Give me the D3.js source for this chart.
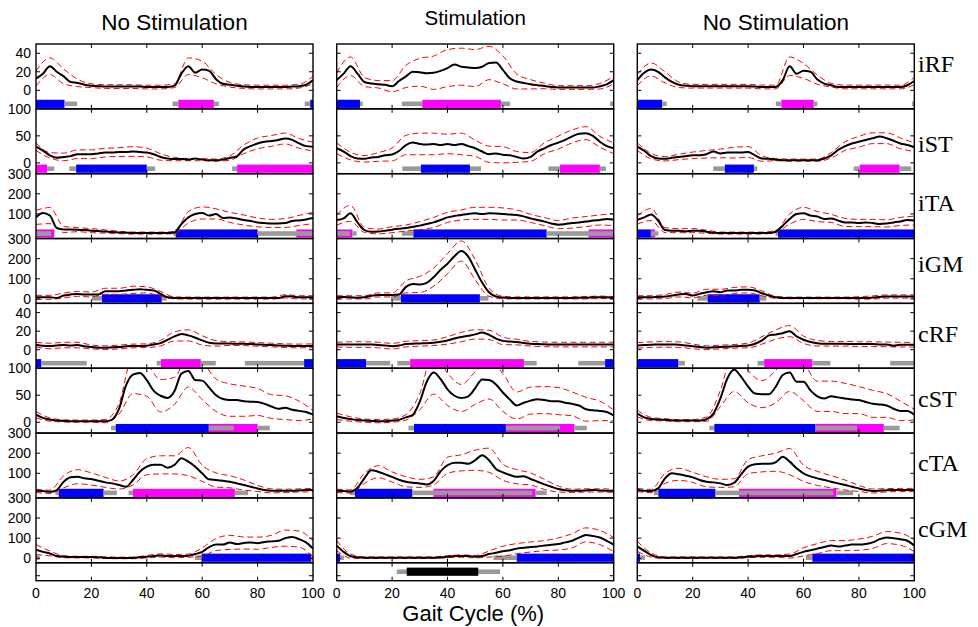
<!DOCTYPE html>
<html>
<head>
<meta charset="utf-8">
<script src="https://cdn.jsdelivr.net/npm/d3@7/dist/d3.min.js"></script>
<style>
html,body{margin:0;padding:0;background:#fff;}
text{font-family:"Liberation Sans",Arial,sans-serif;fill:#000;}
</style>
</head>
<body>
<svg id="chart" width="978" height="627"></svg>
<script>
// ================= DATA =================
const columnTitles = ["No Stimulation", "Stimulation", "No Stimulation"];
const muscles = ["iRF", "iST", "iTA", "iGM", "cRF", "cST", "cTA", "cGM"];
const xTicks = [0, 20, 40, 60, 80, 100];
const xLabel = "Gait Cycle (%)";
const yDomains = { RF: [-20, 50], ST: [-20, 100], TA: [-22, 300], GM: [-22, 300] };
const yTickValues = { RF: [0, 20, 40], ST: [0, 50, 100], TA: [100, 200, 300], GM: [0, 100, 200, 300] };
// sample positions (% gait cycle)
const gaitPct = [0,2.5,5,7.5,10,12.5,15,17.5,20,22.5,25,27.5,30,32.5,35,37.5,40,42.5,45,47.5,50,52.5,55,57.5,60,62.5,65,67.5,70,72.5,75,77.5,80,82.5,85,87.5,90,92.5,95,97.5,100];
const gaitPctSd = [0,5,10,15,20,25,30,35,40,45,50,55,60,65,70,75,80,85,90,95,100];

// Column 1: No Stimulation (mean EMG, order = muscles)
const col1Mean = [
  [12.7,18,26,20,15,9,8,6,5,4.5,4,4,4,4,4,4,3.5,3.5,3.5,3.5,5,18,26,19,22.5,21,12,7,6,5,4,3.5,3.5,3.5,3.5,3.5,3.5,4,4.5,6,11],
  [30,22.5,14,9.4,11,12.5,16,16,16,17.5,19,19,20,20,21,20,19,16,11,8,7,7,6,8,6,5,5,6,9,12,25,31,36,39,40.6,42.5,45,42.5,36,31,30],
  [83,105,92,30,23,23,22,20,17,15,13,10,8,7,5,5,5,5,5,5,8,50,83,100,105,92,100,80,83,77,70,65,58,55,53,53,55,65,68,73,80],
  [8,8,8,5,17,22,25,22,22,22,38,38,38,42,45,48,45,42,25,8,5,4,4,4,4,4,4,4,4,4,4,4,4,4,4,4,13,12,8,8,8],
  [5.4,4.3,4,4.6,5,4.6,5,3.6,2.9,2.1,2.1,2.5,2.9,3.6,4,4,4.3,5.7,7.1,10.7,14.3,17,15.4,12.9,10,7.5,6.8,6.8,6.6,6.4,6.4,6,5.7,5.4,5,4.6,4.3,4,4,4,4.3],
  [14,8,5,3,2.5,2,2,2,2,2,2,5,25,68,88,91,78,58,49,45,58,90,95,78,77,64,50,43,41,41,39,38,37.5,34,29,25,27,23,21,19,14],
  [13,12,8,17,58,80,83,75,72,63,55,50,42,33,67,108,133,142,142,128,142,175,158,133,100,70,67,63,58,50,42,33,25,17,13,13,13,13,15,17,17],
  [43,32,24,11,8,6,6,6,6,5,3,2,2,2,2,5,8,11,14,11,11,11,13,21,32,56,68,68,79,71,76,79,75,81,84,87,100,106,95,79,48]
];
const col1Sd = [
  [8,9,8,4,2,2,2,2,2,2,2,9,9,5,2.5,2,2,2,2,2,4],
  [7,5,7,8,8,8,8,9,8,6,3,2,2,2,4,8,10,10,10,9,8],
  [35,40,15,10,10,8,6,5,5,5,5,28,30,25,25,25,22,20,22,25,28],
  [10,10,12,12,12,15,15,18,15,12,5,5,5,5,5,5,5,5,8,8,8],
  [2.5,3,3,3,2,2,2,2,2,3,5,6,5,3,2,2,2,2,2,2,2],
  [6,3,2,2,2,3,10,35,30,30,25,30,35,30,30,28,25,22,22,18,8],
  [8,8,30,35,30,25,20,25,40,45,45,70,40,35,30,25,15,10,8,8,8],
  [25,12,5,4,4,4,4,4,6,8,8,8,20,30,35,30,30,30,40,40,40]
];
// on/off bars: [start %, end %, kind]  b = blue, m = magenta, g = grey, k = black
const col1Bars = [
  [[0,10.3,"b"],[10.3,14.8,"g"],[49.3,51.4,"g"],[51.4,64.2,"m"],[64.2,66,"g"],[97,99,"g"],[99,100,"b"]],
  [[0,4,"m"],[4,6.6,"g"],[12,14.5,"g"],[14.5,40,"b"],[40,43,"g"],[70.8,72.6,"g"],[72.6,100,"m"]],
  [[0,6.6,"m"],[0,5.5,"g"],[49.5,50.4,"g"],[50.4,80,"b"],[94,100,"m"],[80,100,"g"]],
  [[20.2,23.8,"g"],[23.8,45.4,"b"],[45.4,47.2,"g"]],
  [[0,1.9,"b"],[1.9,18.3,"g"],[43.6,45.1,"g"],[45.1,59.5,"m"],[59.5,64.9,"g"],[75.4,96.8,"g"],[96.8,100,"b"]],
  [[27.1,28.8,"g"],[28.8,62.4,"b"],[62.4,80,"m"],[62.4,71.4,"g"],[80,84.4,"g"]],
  [[7,8.2,"g"],[8.2,24.4,"b"],[24.4,29.2,"g"],[33.4,35,"g"],[35,71.8,"m"],[71.8,76.6,"g"]],
  [[0,1.3,"g"],[57.4,59.8,"g"],[59.8,99.4,"b"],[99.4,100,"g"]]
];

// Column 2: Stimulation
const col2Mean = [
  [11,18,26,18,9,7.3,6.5,6,4.5,10,15,20,19.5,18.5,19,21,24,28,25.5,24.7,24,25.5,29.5,30,22,13,9.5,8,6.5,5.5,4.7,3.6,3,3,3,3,3,3,4.4,6.5,11],
  [27,21,12.5,8,7.5,10,11,14,15.6,22,33,37.5,35,34,35,33,35,33,35,31,27,21,16,17.5,15,14,11,8,11,21,27,33,37.5,42.5,49,54,55,50,39,31,27],
  [70,78,103,58,20,12,13,17,22,26,30,36,42,50,58,70,83,90,95,100,103,100,103,102,100,97,95,88,78,70,62,53,47,50,55,58,62,67,70,75,72],
  [8,10,8,6,8,16,20,20,20,22,60,74,72,80,108,145,175,212,238,210,145,82,33,12,7,5,5,5,5,5,5,5,5,5,5,6,6,8,8,8,6],
  [5.5,5.7,5.5,5.5,5.5,5.5,5,4.6,3.8,4.5,6,6.4,6.8,7,7.5,8.5,10,12,13.6,15,16.5,18.5,16,12,9.5,8.7,8.2,7.2,6.4,6,5.8,5.6,5.5,5.5,5.5,5.5,5.5,5.5,5.5,5.5,5.5],
  [11,8,6,4,3,2.5,2,2,3,4.4,9,14,38,75,92,80,61,49,45,48,63,79,78,70,55,42,31,36,40,42.5,41,39,39,36,34,31,24,22,21,19,12.5],
  [13,12,10,28,75,115,108,95,82,68,58,53,50,45,62,110,140,153,152,147,165,190,165,122,105,92,83,86,72,58,45,33,22,16,13,13,15,17,15,13,13],
  [63,32,11,5,3,3,3,3,3,3,3,3,3,3,3,5,8,11,11,11,8,11,21,27,35,40,48,52,56,59,63,67,71,79,87,103,116,111,103,87,68]
];
const col2Sd = [
  [8,10,5,4,6,12,15,18,20,20,20,18,15,8,5,3,2,2,2,3,4],
  [10,7,6,8,12,18,20,20,18,20,15,15,15,10,8,10,12,12,12,10,10],
  [25,40,12,12,15,15,20,25,25,25,30,30,30,25,20,20,20,25,25,25,30],
  [8,8,8,10,10,30,40,45,50,50,50,20,6,5,5,5,5,5,6,6,6],
  [2.5,3,3,3,3,3,3,3,4,5,5,5,4,3,2.5,2.5,2.5,2.5,2.5,2.5,2.5],
  [6,4,3,3,3,5,15,40,30,25,30,35,35,25,25,25,25,22,22,18,10],
  [8,8,25,30,25,25,20,20,40,40,50,60,40,35,30,25,15,8,8,8,8],
  [25,10,4,4,4,4,4,4,5,6,6,15,25,25,25,25,30,35,35,35,35]
];
const col2Bars = [
  [[0,8.4,"b"],[8.4,9.4,"g"],[23.5,30.9,"g"],[30.9,59.3,"m"],[59.3,62.6,"g"],[98.7,100,"g"]],
  [[23.7,30.4,"g"],[30.4,48.1,"b"],[48.1,52.1,"g"],[76.4,80.6,"g"],[80.6,95,"m"],[95,97.2,"g"]],
  [[0,5.7,"m"],[0,4.8,"g"],[5.7,7.2,"g"],[23.5,27.7,"g"],[27.7,75.8,"b"],[90.9,100,"m"],[75.8,100,"g"]],
  [[19.6,23.2,"g"],[23.2,51.7,"b"],[51.7,54.8,"g"]],
  [[0,10.6,"b"],[10.6,19.3,"g"],[21.9,26.5,"g"],[26.5,67.6,"m"],[67.6,72.2,"g"],[87.2,96.9,"g"],[96.9,100,"b"]],
  [[25.9,27.9,"g"],[27.9,61.1,"b"],[61.1,85.8,"m"],[61.1,80.6,"g"],[85.8,90.3,"g"]],
  [[4.8,6.6,"g"],[6.6,27.3,"b"],[27.3,34.9,"g"],[34.9,71.8,"m"],[34.9,70.6,"g"],[71.8,75.8,"g"]],
  [[0,1.2,"b"],[1.2,2.6,"g"],[56.6,65,"g"],[65,100,"b"]]
];
// stimulation period (column 2 only)
const stimBars = [[21.7,59,"g"],[25.3,51.1,"k"]];

// Column 3: No Stimulation
const col3Mean = [
  [11,19,22.5,20,14,9,6,5,4.4,4.4,4.4,4.4,4.4,4.4,4.4,4.4,4.4,4,3.6,3.6,3.6,11,26,18,21,20,11.6,7.3,5.5,3.6,3.6,3.6,3.6,3.6,3.6,3.6,3.6,3.6,3.6,5.5,10],
  [30,22.5,12.5,8,7.5,9.4,11,12.5,14,14,16,21,17.5,19,19,19,20,14,8,7.5,6,5,5,5,5,5,5,8,14,24,31,36,39,42.5,45.6,49,45.6,41,36,33,29],
  [70,83,97,67,20,17,17,13,17,17,12,7,5,5,5,5,5,5,5,5,13,42,75,100,103,92,87,75,78,67,58,58,55,58,55,50,53,58,63,70,67],
  [8,8,8,10,12,17,22,25,17,25,33,38,33,42,42,45,45,42,28,17,8,5,5,5,5,5,5,5,5,5,5,5,5,5,7,10,12,12,12,12,12],
  [4.6,5,5.4,5.5,5.7,5.5,5.4,4.5,3.6,2.8,2.1,2.5,2.9,3.2,3.6,4,4.6,6.4,10,15.4,16.4,17.8,20,14.3,10.7,8.2,7,6.4,6.4,6.4,6.4,6,6,6,6,5.7,5.7,4.3,5.4,5.4,5.4],
  [16,9,6,5,4.4,3.5,3,3,3,3,5.6,16,44,81,97,84,66,53,52,52,66,87.5,92,75,75,59,48,44,48,46,44,42,41,37.5,34,33,31,25,21,21,14],
  [17,13,12,25,75,100,95,88,80,67,58,55,50,42,53,95,133,145,147,147,155,182,158,125,100,85,75,67,58,50,42,33,25,17,12,14,16,17,17,17,17],
  [59,37,16,5,3,3,3,3,3,3,3,3,3,3,3,5,8,10,11,11,11,11,11,21,32,40,48,56,63,59,63,68,68,71,79,95,103,100,95,87,63]
];
const col3Sd = [
  [6,7,6,3,2,2,2,2,2,2,2,10,8,5,2,2,2,2,2,2,4],
  [7,5,4,5,6,7,8,10,10,5,2,2,2,2,5,8,10,10,10,10,8],
  [20,30,12,10,10,8,5,5,5,5,5,25,30,25,20,20,18,18,18,20,22],
  [8,8,10,12,12,15,15,15,15,12,5,4,4,4,4,4,6,8,8,8,8],
  [3,3,3,3,2.5,2,2,2,2.5,4,5,6,4,3,2.5,2.5,2.5,2.5,2.5,2.5,2.5],
  [6,3,2,2,2,4,15,40,30,25,30,35,35,28,28,28,25,25,22,18,10],
  [8,8,25,30,25,25,20,20,35,40,45,65,40,35,30,25,15,10,8,8,8],
  [25,10,4,4,4,4,4,4,5,6,6,10,20,25,25,25,28,30,30,30,30]
];
const col3Bars = [
  [[0,9,"b"],[9,10.6,"g"],[50,52,"g"],[52,63.7,"m"],[63.7,65,"g"],[99.2,100,"g"]],
  [[27.4,31.6,"g"],[31.6,42.1,"b"],[42.1,43.3,"g"],[78.1,80.3,"g"],[80.3,94.7,"m"],[94.7,98.9,"g"]],
  [[0,4.9,"b"],[4.9,6.4,"m"],[4.9,7.6,"g"],[49.9,50.8,"g"],[50.8,100,"b"]],
  [[21.8,25.4,"g"],[25.4,44.2,"b"],[44.2,46.6,"g"]],
  [[0,14.8,"b"],[14.8,17.2,"g"],[43.4,45.8,"g"],[45.8,63.2,"m"],[63.2,69.7,"g"],[91.3,100,"g"]],
  [[26,27.8,"g"],[27.8,64.3,"b"],[64.3,89,"m"],[64.3,79.3,"g"],[89,94.7,"g"]],
  [[6,7.6,"g"],[7.6,28.2,"b"],[28.2,36.7,"g"],[36.7,71.9,"m"],[36.7,70.7,"g"],[71.9,77.9,"g"]],
  [[0,1,"b"],[1,2.8,"g"],[60.8,63.2,"g"],[63.2,100,"b"]]
];

// ================= LAYOUT / STYLE =================
const W = 978, H = 627;
const panelLeft = [36, 336.7, 637.3], panelWidth = 277;
const plotTop = 44, rowH = 64.84, stimH = 18;
const titleBaseline = [30, 25, 30];
const titleSize = [22.5, 20.5, 22.5];
const rowLabelCenter = [20, 35, 29.5, 25.5, 30.6, 30.8, 29.5, 31];
const barColor = { b: "#0000ff", m: "#ff00ff", g: "#9a9a9a", k: "#000000" };
const stimColumn = 1;

const svg = d3.select("#chart");
svg.append("rect").attr("width", W).attr("height", H).attr("fill", "#fff");
const defs = svg.append("defs");

const means = [col1Mean, col2Mean, col3Mean];
const sds = [col1Sd, col2Sd, col3Sd];
const barsets = [col1Bars, col2Bars, col3Bars];

function drawBars(g, x, list, yMid) {
  list.forEach(([s, e, k]) => {
    const thick = k === "g" ? 4.6 : 8.2;
    g.append("rect")
      .attr("x", x(s)).attr("width", Math.max(0, x(e) - x(s)))
      .attr("y", yMid - thick / 2).attr("height", thick)
      .attr("fill", barColor[k]);
  });
}

panelLeft.forEach((left, c) => {
  const x = d3.scaleLinear().domain([0, 100]).range([left, left + panelWidth]);

  svg.append("text")
    .attr("x", left + panelWidth / 2).attr("y", titleBaseline[c])
    .attr("text-anchor", "middle").attr("font-size", titleSize[c])
    .text(columnTitles[c]);

  muscles.forEach((m, r) => {
    const t = m.slice(1);
    const y0 = plotTop + r * rowH, y1 = y0 + rowH;
    const y = d3.scaleLinear().domain(yDomains[t]).range([y1, y0]);
    const id = `clip${c}_${r}`;
    defs.append("clipPath").attr("id", id).append("rect")
      .attr("x", left).attr("y", y0).attr("width", panelWidth).attr("height", rowH);
    const g = svg.append("g").attr("clip-path", `url(#${id})`);

    const mean = means[c][r], sd = sds[c][r];
    const meanPts = gaitPct.map((p, i) => [p, mean[i]]);
    const upPts = gaitPctSd.map((p, i) => [p, mean[i * 2] + sd[i]]);
    const loPts = gaitPctSd.map((p, i) => [p, mean[i * 2] - sd[i]]);
    const line = d3.line().x(d => x(d[0])).y(d => y(d[1])).curve(d3.curveMonotoneX);

    drawBars(g, x, barsets[c][r], y1 - 5);

    [upPts, loPts].forEach(pts => {
      g.append("path").attr("d", line(pts)).attr("fill", "none")
        .attr("stroke", "#ff0000").attr("stroke-width", 1)
        .attr("stroke-dasharray", "6,3.5");
    });
    g.append("path").attr("d", line(meanPts)).attr("fill", "none")
      .attr("stroke", "#000").attr("stroke-width", 2).attr("stroke-linejoin", "round");

    // ticks
    const tk = svg.append("g").attr("stroke", "#000").attr("stroke-width", 1);
    xTicks.filter(v => v > 0 && v < 100).forEach(v => {
      tk.append("line").attr("x1", x(v)).attr("x2", x(v)).attr("y1", y0).attr("y2", y0 + 4);
      tk.append("line").attr("x1", x(v)).attr("x2", x(v)).attr("y1", y1 - 4).attr("y2", y1);
    });
    yTickValues[t].filter(v => v < yDomains[t][1]).forEach(v => {
      tk.append("line").attr("x1", left).attr("x2", left + 4).attr("y1", y(v)).attr("y2", y(v));
      tk.append("line").attr("x1", left + panelWidth - 4).attr("x2", left + panelWidth).attr("y1", y(v)).attr("y2", y(v));
    });

    svg.append("rect").attr("x", left).attr("y", y0).attr("width", panelWidth).attr("height", rowH)
      .attr("fill", "none").attr("stroke", "#000").attr("stroke-width", 1.4);

    if (c === 0) {
      yTickValues[t].forEach(v => {
        svg.append("text").attr("x", 31).attr("y", y(v) + 5)
          .attr("text-anchor", "end").attr("font-size", 14).text(v);
      });
    }
    if (c === 2) {
      svg.append("text").attr("x", 918).attr("y", y0 + rowLabelCenter[r] + 8)
        .attr("font-size", 24).style("font-family", '"Liberation Serif","Times New Roman",serif')
        .text(m);
    }
  });

  // stimulation strip
  const s0 = plotTop + muscles.length * rowH, s1 = s0 + stimH;
  if (c === stimColumn) {
    drawBars(svg.append("g"), x, stimBars, (s0 + s1) / 2);
  }
  const tk = svg.append("g").attr("stroke", "#000").attr("stroke-width", 1);
  xTicks.filter(v => v > 0 && v < 100).forEach(v => {
    tk.append("line").attr("x1", x(v)).attr("x2", x(v)).attr("y1", s1 - 4).attr("y2", s1);
    tk.append("line").attr("x1", x(v)).attr("x2", x(v)).attr("y1", s0).attr("y2", s0 + 4);
  });
  tk.append("line").attr("x1", left).attr("x2", left + 4).attr("y1", s0 + 13).attr("y2", s0 + 13);
  tk.append("line").attr("x1", left + panelWidth - 4).attr("x2", left + panelWidth).attr("y1", s0 + 13).attr("y2", s0 + 13);
  svg.append("rect").attr("x", left).attr("y", s0).attr("width", panelWidth).attr("height", stimH)
    .attr("fill", "none").attr("stroke", "#000").attr("stroke-width", 1.4);

  xTicks.forEach(v => {
    svg.append("text").attr("x", x(v)).attr("y", 598).attr("text-anchor", "middle")
      .attr("font-size", 14).text(v);
  });
});

svg.append("text").attr("x", panelLeft[1] + panelWidth / 2 - 2).attr("y", 621)
  .attr("text-anchor", "middle").attr("font-size", 22).text(xLabel);
</script>
</body>
</html>
